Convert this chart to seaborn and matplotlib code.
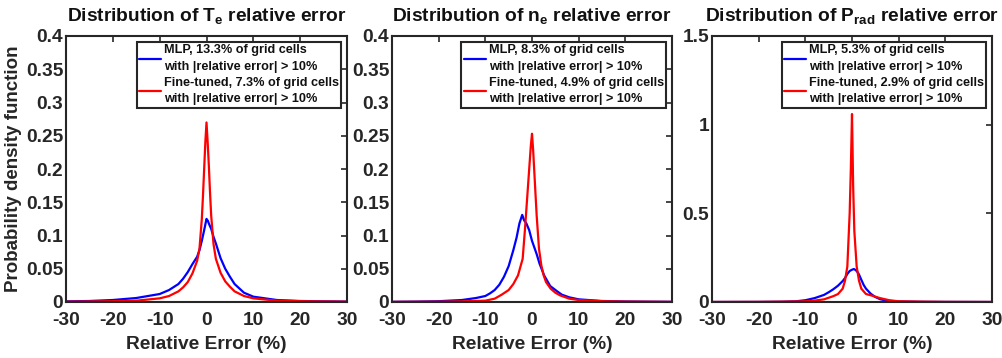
import matplotlib
matplotlib.use("Agg")
import matplotlib.pyplot as plt
import seaborn as sns
import pandas as pd

# ---------------- data ----------------
xticks = [-30, -20, -10, 0, 10, 20, 30]
yticks_small = [0, 0.05, 0.1, 0.15, 0.2, 0.25, 0.3, 0.35, 0.4]
yticklabels_small = ["0", "0.05", "0.1", "0.15", "0.2", "0.25", "0.3", "0.35", "0.4"]
yticks_prad = [0, 0.5, 1, 1.5]
yticklabels_prad = ["0", "0.5", "1", "1.5"]

titles = [r"Distribution of $T_e$ relative error",
          r"Distribution of $n_e$ relative error",
          r"Distribution of $P_{rad}$ relative error"]
legend_mlp = ["MLP, 13.3% of grid cells\nwith |relative error| > 10%",
              "MLP, 8.3% of grid cells\nwith |relative error| > 10%",
              "MLP, 5.3% of grid cells\nwith |relative error| > 10%"]
legend_ft = ["Fine-tuned, 7.3% of grid cells\nwith |relative error| > 10%",
             "Fine-tuned, 4.9% of grid cells\nwith |relative error| > 10%",
             "Fine-tuned, 2.9% of grid cells\nwith |relative error| > 10%"]

# Te
te_mlp_x = [-30, -25, -20, -15, -10, -8, -6, -5, -4, -3, -2, -1.5, -1, -0.5, 0, 0.3, 0.5, 1, 1.5, 2, 3, 4, 5, 6, 8, 10, 15, 20, 25, 30]
te_mlp_y = [0.001, 0.0015, 0.003, 0.006, 0.012, 0.018, 0.027, 0.035, 0.045, 0.057, 0.068, 0.078, 0.092, 0.108, 0.125, 0.122, 0.118, 0.11, 0.098, 0.088, 0.066, 0.05, 0.038, 0.027, 0.014, 0.008, 0.003, 0.0015, 0.001, 0.0006]
te_ft_x = [-30, -25, -20, -15, -10, -8, -6, -5, -4, -3, -2, -1.5, -1, -0.75, -0.5, -0.25, 0, 0.25, 0.5, 0.75, 1, 1.5, 2, 3, 4, 5, 6, 8, 10, 15, 20, 25, 30]
te_ft_y = [0.0005, 0.0008, 0.0012, 0.002, 0.0055, 0.009, 0.016, 0.022, 0.030, 0.043, 0.062, 0.08, 0.125, 0.16, 0.2, 0.24, 0.27, 0.24, 0.205, 0.165, 0.13, 0.087, 0.065, 0.044, 0.031, 0.023, 0.016, 0.009, 0.0055, 0.002, 0.0012, 0.0008, 0.0005]

# ne
ne_mlp_x = [-30, -25, -20, -15, -12, -10, -9, -8, -7, -6, -5, -4, -3.3, -2.7, -2.1, -1.7, -1.2, -0.6, 0, 0.5, 1, 1.6, 2.6, 3.9, 5.4, 6.4, 8, 10, 15, 20, 25, 30]
ne_mlp_y = [0.0003, 0.0006, 0.0012, 0.003, 0.006, 0.009, 0.013, 0.018, 0.026, 0.038, 0.054, 0.078, 0.097, 0.118, 0.131, 0.123, 0.118, 0.108, 0.092, 0.082, 0.072, 0.058, 0.040, 0.024, 0.016, 0.011, 0.007, 0.004, 0.0015, 0.0008, 0.0005, 0.0003]
ne_ft_x = [-30, -20, -15, -10, -8, -6.5, -5, -4, -3, -2, -1.5, -1, -0.5, -0.25, 0, 0.25, 0.5, 1, 1.5, 2, 2.5, 3, 4, 5, 6, 8, 10, 15, 20, 30]
ne_ft_y = [0.0002, 0.0005, 0.001, 0.002, 0.005, 0.011, 0.018, 0.027, 0.04, 0.065, 0.11, 0.16, 0.21, 0.235, 0.253, 0.228, 0.195, 0.13, 0.08, 0.055, 0.04, 0.03, 0.02, 0.014, 0.01, 0.005, 0.003, 0.0012, 0.0006, 0.0002]

# Prad
pr_mlp_x = [-30, -20, -15, -12, -10, -8, -6, -5, -4, -3, -2, -1.5, -1, -0.5, 0, 0.4, 0.8, 1.2, 1.5, 2, 2.5, 3, 4, 5, 6, 7, 8, 10, 15, 20, 30]
pr_mlp_y = [0.0002, 0.0006, 0.0015, 0.004, 0.01, 0.022, 0.04, 0.055, 0.072, 0.092, 0.118, 0.135, 0.158, 0.175, 0.182, 0.186, 0.18, 0.168, 0.155, 0.125, 0.096, 0.075, 0.047, 0.028, 0.016, 0.01, 0.006, 0.003, 0.001, 0.0005, 0.0002]
pr_ft_x = [-30, -20, -15, -10, -8, -6, -5, -4, -3, -2, -1.5, -1, -0.5, -0.25, 0, 0.25, 0.5, 1, 1.5, 2, 3, 4, 5, 6, 8, 10, 15, 20, 30]
pr_ft_y = [0.0002, 0.0008, 0.002, 0.004, 0.008, 0.015, 0.024, 0.033, 0.045, 0.075, 0.12, 0.2, 0.5, 0.75, 1.06, 0.65, 0.4, 0.2, 0.12, 0.075, 0.045, 0.038, 0.03, 0.022, 0.01, 0.004, 0.002, 0.0008, 0.0002]

panels = [
    (te_mlp_x, te_mlp_y, te_ft_x, te_ft_y, 0.4, yticks_small, yticklabels_small),
    (ne_mlp_x, ne_mlp_y, ne_ft_x, ne_ft_y, 0.4, yticks_small, yticklabels_small),
    (pr_mlp_x, pr_mlp_y, pr_ft_x, pr_ft_y, 1.5, yticks_prad, yticklabels_prad),
]

# ---------------- style ----------------
sns.set_style("white")
plt.rcParams["font.family"] = ["Liberation Sans", "DejaVu Sans"]
plt.rcParams["font.weight"] = "bold"
plt.rcParams["axes.labelweight"] = "bold"
plt.rcParams["axes.titleweight"] = "bold"
plt.rcParams["axes.unicode_minus"] = False
plt.rcParams["mathtext.fontset"] = "custom"
plt.rcParams["mathtext.rm"] = "Liberation Sans:bold"
plt.rcParams["mathtext.it"] = "Liberation Sans:bold"
plt.rcParams["mathtext.bf"] = "Liberation Sans:bold"

W, H = 1003, 358
fig = plt.figure(figsize=(W / 100, H / 100), dpi=100)
fig.patch.set_facecolor("white")

lefts = [66, 392, 712]
widths = [281, 280, 280]
top_px, bot_px = 36, 302
edge = "#262626"

for i, (mx, my, fx, fy, ymax, yt, ytl) in enumerate(panels):
    ax = fig.add_axes([lefts[i] / W, (H - bot_px) / H, widths[i] / W, (bot_px - top_px) / H])
    df_m = pd.DataFrame({"x": mx, "y": my})
    df_f = pd.DataFrame({"x": fx, "y": fy})
    sns.lineplot(data=df_m, x="x", y="y", ax=ax, color=(0, 0, 1), lw=1.6, label=legend_mlp[i])
    sns.lineplot(data=df_f, x="x", y="y", ax=ax, color=(1, 0, 0), lw=1.6, label=legend_ft[i])
    ax.set_xlim(-30, 30)
    ax.set_ylim(0, ymax)
    ax.set_xticks(xticks)
    ax.set_xticklabels([str(t) for t in xticks])
    ax.set_yticks(yt)
    ax.set_yticklabels(ytl)
    ax.tick_params(direction="in", top=True, right=True, length=4, width=1.2,
                   labelsize=13.8, colors=edge, labelcolor="#262626")
    ax.tick_params(axis="x", pad=7)
    ax.tick_params(axis="y", pad=2)
    for t in ax.get_xticklabels() + ax.get_yticklabels():
        t.set_fontweight("bold")
    for s in ax.spines.values():
        s.set_visible(True)
        s.set_color(edge)
        s.set_linewidth(1.5)
    ax.set_xlabel("Relative Error (%)", fontsize=13.8, fontweight="bold", color="#262626", labelpad=5)
    if i == 0:
        ax.set_ylabel("Probability density function", fontsize=13.5, fontweight="bold", color="#262626", labelpad=3)
    else:
        ax.set_ylabel("")
    ax.set_title(titles[i], fontsize=13.8, fontweight="bold", color="#111111", pad=11)
    leg = ax.legend(loc="upper right", fontsize=9.1, frameon=True, fancybox=False,
                    edgecolor=edge, framealpha=1, borderaxespad=0.45, borderpad=0.2,
                    handlelength=1.7, handletextpad=0.25, labelspacing=0.3)
    leg.get_frame().set_linewidth(1.5)
    for t in leg.get_texts():
        t.set_fontweight("bold")
        t.set_linespacing(1.5)
        t.set_color("#111111")

fig.savefig("out.png", dpi=100, facecolor="white")
